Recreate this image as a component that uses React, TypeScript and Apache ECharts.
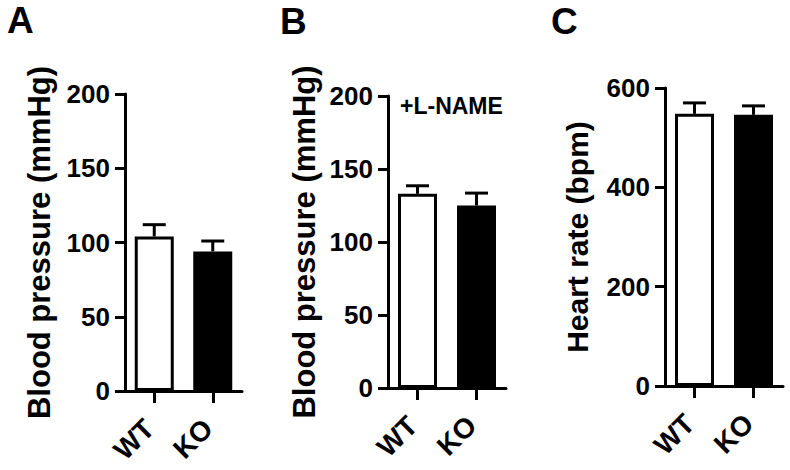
import React, { useEffect, useRef } from "react";
import * as echarts from "echarts";

const categories = ["WT", "KO"];
const panelLetters = ["A", "B", "C"];
const yNames = ["Blood pressure (mmHg)", "Blood pressure (mmHg)", "Heart rate (bpm)"];
const bpMeans = [104, 94];
const bpErrors = [8, 7];
const lnameMeans = [133, 125];
const lnameErrors = [5.5, 8.5];
const hrMeans = [548, 546];
const hrErrors = [22, 18];
const yMax = [200, 200, 600];
const yInterval = [50, 50, 200];
const annotation = "+L-NAME";

const FONT = "Liberation Sans, Arial, sans-serif";

const grids = [
  { left: 125, top: 94, width: 117, height: 297 },
  { left: 388, top: 96, width: 118, height: 292 },
  { left: 665, top: 88, width: 118, height: 298 },
];
const titlePos = [
  { left: 7, top: 2 },
  { left: 280, top: 3 },
  { left: 551, top: 3 },
];
const nameGaps = [70, 68, 73];
const nameSizes = [31, 31, 30];

export default function App() {
  const ref = useRef<HTMLDivElement>(null);
  useEffect(() => {
    if (!ref.current) return;
    const chart = echarts.init(ref.current, undefined, { renderer: "svg" });
    const means = [bpMeans, lnameMeans, hrMeans];
    const errs = [bpErrors, lnameErrors, hrErrors];

    const xAxis: any[] = [];
    const yAxis: any[] = [];
    const series: any[] = [];
    for (let i = 0; i < 3; i++) {
      xAxis.push({
        gridIndex: i,
        type: "category",
        data: categories,
        axisLine: { show: true, lineStyle: { color: "#000", width: 3 } },
        axisTick: { show: true, alignWithLabel: true, length: 12, lineStyle: { color: "#000", width: 3 } },
        axisLabel: {
          rotate: 45,
          margin: 28,
          padding: [0, 7, 0, 0],
          color: "#000",
          fontSize: 28,
          fontWeight: "bold",
          fontFamily: FONT,
        },
      });
      yAxis.push({
        gridIndex: i,
        type: "value",
        min: 0,
        max: yMax[i],
        interval: yInterval[i],
        name: yNames[i],
        nameLocation: "middle",
        nameGap: nameGaps[i],
        nameTextStyle: { color: "#000", fontSize: nameSizes[i], fontWeight: "bold", fontFamily: FONT },
        splitLine: { show: false },
        axisLine: { show: true, lineStyle: { color: "#000", width: 3 } },
        axisTick: { show: true, length: 10, lineStyle: { color: "#000", width: 3 } },
        axisLabel: { margin: 15, color: "#000", fontSize: 26, fontWeight: "bold", fontFamily: FONT },
      });
      series.push({
        type: "bar",
        xAxisIndex: i,
        yAxisIndex: i,
        barWidth: 39,
        data: means[i].map((v, j) => ({
          value: v,
          itemStyle: {
            color: j === 0 ? "#fff" : "#000",
            borderColor: "#000",
            borderWidth: 3,
          },
        })),
      });
      series.push({
        type: "custom",
        xAxisIndex: i,
        yAxisIndex: i,
        data: means[i].map((v, j) => [j, v, errs[i][j]]),
        renderItem: (params: any, api: any) => {
          const x = api.value(0);
          const v = api.value(1);
          const e = api.value(2);
          const base = api.coord([x, v]);
          const top = api.coord([x, v + e]);
          const hw = 11.5;
          const st = { stroke: "#000", lineWidth: 3 };
          return {
            type: "group",
            children: [
              { type: "line", shape: { x1: base[0], y1: base[1], x2: top[0], y2: top[1] }, style: st },
              { type: "line", shape: { x1: top[0] - hw, y1: top[1], x2: top[0] + hw, y2: top[1] }, style: st },
            ],
          };
        },
        z: 3,
      });
    }

    chart.setOption({
      animation: false,
      backgroundColor: "#fff",
      title: panelLetters.map((t, i) => ({
        text: t,
        left: titlePos[i].left,
        top: titlePos[i].top,
        padding: 0,
        textStyle: { color: "#000", fontSize: 37, fontWeight: "bold", fontFamily: FONT },
      })),
      grid: grids,
      xAxis,
      yAxis,
      series,
      graphic: [
        {
          type: "text",
          left: 400,
          top: 94,
          style: { text: annotation, fill: "#000", fontSize: 23, fontWeight: "bold", fontFamily: FONT },
        },
      ],
    });
    return () => chart.dispose();
  }, []);
  return <div ref={ref} style={{ position: "fixed", left: 0, top: 0, width: 790, height: 470 }} />;
}
